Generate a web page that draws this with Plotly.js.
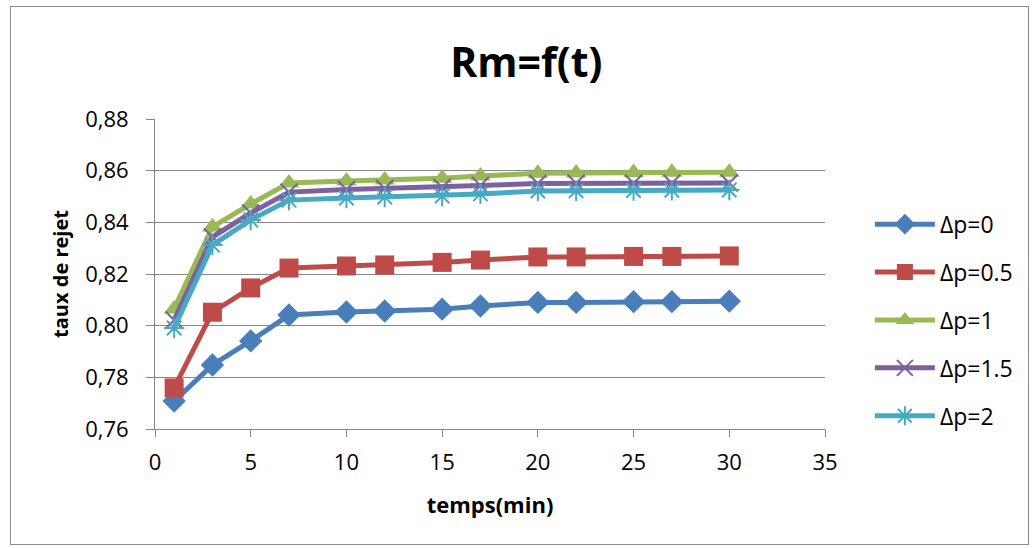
<!DOCTYPE html>
<html>
<head>
<meta charset="utf-8">
<script src="https://cdn.plot.ly/plotly-3.0.1.min.js"></script>
<style>
html,body{margin:0;padding:0;background:#fff;}
#chart{width:1032px;height:548px;position:relative;}
#frame{position:absolute;left:10px;top:6px;width:1019px;height:539px;border:1.5px solid #8c8c8c;pointer-events:none;box-sizing:border-box;}
</style>
</head>
<body>
<div id="chart"></div>
<div id="frame"></div>
<script>
const times = [1, 3, 5, 7, 10, 12, 15, 17, 20, 22, 25, 27, 30];
const seriesNames = ['Δp=0', 'Δp=0.5', 'Δp=1', 'Δp=1.5', 'Δp=2'];
const dp0   = [0.7708, 0.7848, 0.7941, 0.8041, 0.8053, 0.8057, 0.8064, 0.8076, 0.8090, 0.8090, 0.8093, 0.8093, 0.8095];
const dp05  = [0.7759, 0.8052, 0.8146, 0.8223, 0.8231, 0.8235, 0.8245, 0.8254, 0.8266, 0.8266, 0.8268, 0.8268, 0.8270];
const dp1   = [0.8065, 0.8382, 0.8471, 0.8552, 0.8560, 0.8564, 0.8571, 0.8579, 0.8590, 0.8591, 0.8593, 0.8594, 0.8594];
const dp15  = [0.8022, 0.8343, 0.8436, 0.8517, 0.8527, 0.8531, 0.8535, 0.8543, 0.8550, 0.8551, 0.8551, 0.8551, 0.8552];
const dp2   = [0.7991, 0.8312, 0.8409, 0.8486, 0.8494, 0.8498, 0.8502, 0.8510, 0.8521, 0.8522, 0.8523, 0.8524, 0.8525];
const yTickVals = [0.76, 0.78, 0.80, 0.82, 0.84, 0.86, 0.88];
const xTickVals = [0, 5, 10, 15, 20, 25, 30, 35];

const colors = ['#4a7ebb', '#be4b48', '#98b954', '#7d60a0', '#46aac5'];
const symbols = ['diamond', 'square', 'triangle-up', 'x-thin-open', 'asterisk-open'];
const sizes = [18, 19, 18, 17, 17];
const allY = [dp0, dp05, dp1, dp15, dp2];

const traces = allY.map((ys, i) => ({
  x: times, y: ys, name: seriesNames[i], type: 'scatter', mode: 'lines+markers',
  legendgroup: 'g' + i,
  line: {color: colors[i], width: 5},
  marker: {symbol: symbols[i], size: sizes[i], color: colors[i],
           line: {color: colors[i], width: (i >= 3 ? 2 : 0)}}
}));

const font = 'Open Sans, Noto Sans, Liberation Sans, sans-serif';
const layout = {
  width: 1032, height: 548,
  paper_bgcolor: '#fff', plot_bgcolor: '#fff',
  separators: ', ',
  margin: {l: 155, r: 207, t: 119, b: 119},
  font: {family: font, size: 20, color: '#000'},
  title: {text: '<b>Rm=f(t)</b>', x: 0.51, xref: 'container', xanchor: 'center', y: 0.885, yref: 'container', yanchor: 'middle',
          font: {family: font, size: 41, color: '#000'}},
  xaxis: {
    range: [0, 35], tickvals: xTickVals, showgrid: false, zeroline: false,
    showline: true, linecolor: '#868686', linewidth: 1,
    ticks: 'outside', ticklen: 7, tickcolor: '#868686',
    ticklabelstandoff: 7,
    tickfont: {size: 22},
    title: {text: '<b>temps(min)</b>', font: {size: 22}, standoff: 22}
  },
  yaxis: {
    range: [0.76, 0.88], tickvals: yTickVals, tickformat: '.2f',
    showgrid: true, gridcolor: '#878787', gridwidth: 1, zeroline: false,
    showline: true, linecolor: '#868686', linewidth: 1,
    ticks: 'outside', ticklen: 8, tickcolor: '#868686',
    ticklabelstandoff: 13,
    tickfont: {size: 22},
    title: {text: '<b>taux de rejet</b>', font: {size: 20}, standoff: 11}
  },
  legend: {
    x: 1.067, xanchor: 'left', y: 0.73, yanchor: 'top',
    font: {size: 23}, itemwidth: 60, tracegroupgap: 15,
    bgcolor: 'rgba(0,0,0,0)'
  },
  showlegend: true
};

Plotly.newPlot('chart', traces, layout, {displayModeBar: false, staticPlot: true});
</script>
</body>
</html>
